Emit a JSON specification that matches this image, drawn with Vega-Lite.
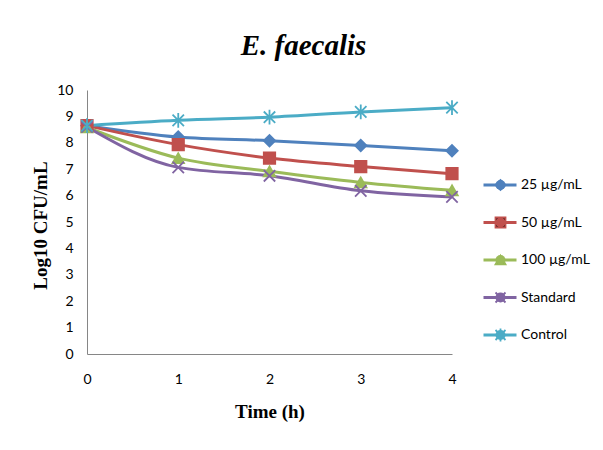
{
  "$schema": "https://vega.github.io/schema/vega-lite/v6.json",
  "autosize": "none",
  "width": 365,
  "height": 264,
  "padding": {"left": 87, "top": 90, "right": 151, "bottom": 96},
  "background": "white",
  "config": {
    "view": {"stroke": null},
    "font": "Liberation Sans Narrow, Lato, sans-serif"
  },
  "title": {
    "text": "E. faecalis",
    "font": "Liberation Serif",
    "fontSize": 29,
    "fontWeight": "bold",
    "fontStyle": "italic",
    "color": "black",
    "anchor": "middle",
    "baseline": "alphabetic",
    "offset": -1,
    "dx": 34
  },
  "data": {
    "values": [
      {"time": 0, "series": "25 µg/mL", "value": 8.65},
      {"time": 1, "series": "25 µg/mL", "value": 8.22},
      {"time": 2, "series": "25 µg/mL", "value": 8.08},
      {"time": 3, "series": "25 µg/mL", "value": 7.9},
      {"time": 4, "series": "25 µg/mL", "value": 7.7},
      {"time": 0, "series": "50 µg/mL", "value": 8.65},
      {"time": 1, "series": "50 µg/mL", "value": 7.93},
      {"time": 2, "series": "50 µg/mL", "value": 7.42},
      {"time": 3, "series": "50 µg/mL", "value": 7.1},
      {"time": 4, "series": "50 µg/mL", "value": 6.83},
      {"time": 0, "series": "100 µg/mL", "value": 8.58},
      {"time": 1, "series": "100 µg/mL", "value": 7.42},
      {"time": 2, "series": "100 µg/mL", "value": 6.92},
      {"time": 3, "series": "100 µg/mL", "value": 6.5},
      {"time": 4, "series": "100 µg/mL", "value": 6.2},
      {"time": 0, "series": "Standard", "value": 8.6},
      {"time": 1, "series": "Standard", "value": 7.07},
      {"time": 2, "series": "Standard", "value": 6.75},
      {"time": 3, "series": "Standard", "value": 6.18},
      {"time": 4, "series": "Standard", "value": 5.95},
      {"time": 0, "series": "Control", "value": 8.65},
      {"time": 1, "series": "Control", "value": 8.85},
      {"time": 2, "series": "Control", "value": 8.97},
      {"time": 3, "series": "Control", "value": 9.17},
      {"time": 4, "series": "Control", "value": 9.33}
    ]
  },
  "encoding": {
    "x": {
      "field": "time",
      "type": "quantitative",
      "scale": {"domain": [0, 4], "nice": false, "zero": false},
      "axis": {
        "title": "Time (h)",
        "values": [0, 1, 2, 3, 4],
        "format": "d",
        "grid": false,
        "ticks": false,
        "domainColor": "#868686",
        "domainWidth": 1,
        "labelFontSize": 14,
        "labelColor": "black",
        "labelPadding": 18,
        "labelFlush": false,
        "titleFont": "Liberation Serif",
        "titleFontSize": 19,
        "titleFontWeight": "bold",
        "titleColor": "black",
        "titleBaseline": "middle",
        "titleY": 57
      }
    },
    "y": {
      "field": "value",
      "type": "quantitative",
      "scale": {"domain": [0, 10], "nice": false},
      "axis": {
        "title": "Log10 CFU/mL",
        "values": [0, 1, 2, 3, 4, 5, 6, 7, 8, 9, 10],
        "grid": false,
        "ticks": false,
        "domainColor": "#868686",
        "domainWidth": 1,
        "labelFontSize": 14,
        "labelColor": "black",
        "labelPadding": 14,
        "labelFlush": false,
        "titleFont": "Liberation Serif",
        "titleFontSize": 19,
        "titleFontWeight": "bold",
        "titleColor": "black",
        "titleAngle": -90,
        "titleAlign": "center",
        "titleBaseline": "middle",
        "titleX": -47,
        "titleY": 135
      }
    }
  },
  "layer": [
    {
      "mark": {"type": "line", "interpolate": "monotone", "strokeWidth": 3},
      "encoding": {
        "color": {
          "field": "series",
          "type": "nominal",
          "scale": {
            "domain": ["25 µg/mL", "50 µg/mL", "100 µg/mL", "Standard", "Control"],
            "range": ["#4F81BD", "#C0504D", "#9BBB59", "#8064A2", "#4BACC6"]
          },
          "legend": {
            "title": null,
            "orient": "none",
            "legendX": 395,
            "legendY": 85,
            "padding": 0,
            "symbolType": "stroke",
            "symbolSize": 1089,
            "symbolStrokeWidth": 3,
            "clipHeight": 20,
            "rowPadding": 17.5,
            "labelOffset": 3,
            "labelFontSize": 14,
            "labelColor": "black",
            "labelLimit": 200
          }
        }
      }
    },
    {
      "mark": {"type": "point", "filled": true, "opacity": 1, "size": 130, "strokeWidth": 1.8},
      "encoding": {
        "color": {
          "field": "series",
          "type": "nominal",
          "scale": {
            "domain": ["25 µg/mL", "50 µg/mL", "100 µg/mL", "Standard", "Control"],
            "range": ["#4F81BD", "#C0504D", "#9BBB59", "#8064A2", "#4BACC6"]
          },
          "legend": {
            "title": null,
            "orient": "none",
            "legendX": 406.5,
            "legendY": 85,
            "padding": 0,
            "symbolSize": 100,
            "symbolStrokeWidth": 1.8,
            "symbolOpacity": 1,
            "clipHeight": 20,
            "rowPadding": 17.5,
            "labelFontSize": 14,
            "labelExpr": "''"
          }
        },
        "stroke": {
          "field": "series",
          "type": "nominal",
          "scale": {
            "domain": ["25 µg/mL", "50 µg/mL", "100 µg/mL", "Standard", "Control"],
            "range": ["#4F81BD", "#C0504D", "#9BBB59", "#8064A2", "#4BACC6"]
          },
          "legend": {
            "title": null,
            "orient": "none",
            "legendX": 406.5,
            "legendY": 85,
            "padding": 0,
            "symbolSize": 100,
            "symbolStrokeWidth": 1.8,
            "clipHeight": 20,
            "rowPadding": 17.5,
            "labelFontSize": 14,
            "labelExpr": "''"
          }
        },
        "shape": {
          "field": "series",
          "type": "nominal",
          "scale": {
            "domain": ["25 µg/mL", "50 µg/mL", "100 µg/mL", "Standard", "Control"],
            "range": ["diamond", "square", "triangle-up", "M-1,-1L1,1M-1,1L1,-1", "M-1,-1L1,1M-1,1L1,-1M0,-1.3L0,1.3"]
          },
          "legend": {
            "title": null,
            "orient": "none",
            "legendX": 406.5,
            "legendY": 85,
            "padding": 0,
            "symbolSize": 100,
            "symbolStrokeWidth": 1.8,
            "clipHeight": 20,
            "rowPadding": 17.5,
            "labelFontSize": 14,
            "labelExpr": "''"
          }
        }
      }
    }
  ],
  "resolve": {"legend": {"color": "independent"}}
}
